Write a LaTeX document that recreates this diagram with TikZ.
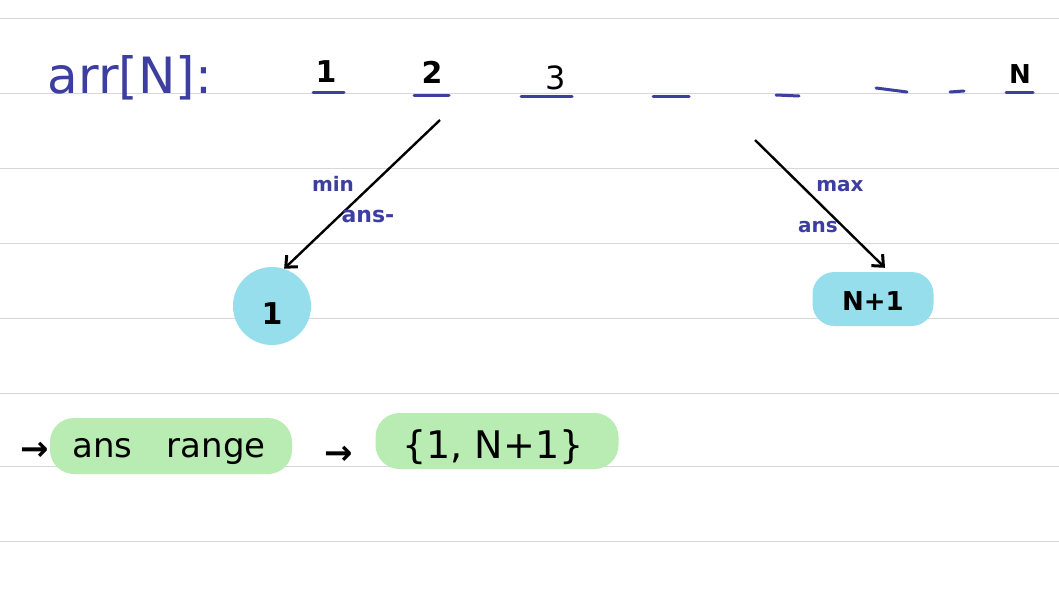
\documentclass[tikz,border=0pt]{standalone}
\usepackage{fontspec}
\setmainfont{DejaVu Sans}
\usetikzlibrary{arrows.meta,calc}
\definecolor{inkblue}{RGB}{60,62,160}
\definecolor{rule}{RGB}{215,215,218}
\definecolor{cyanfill}{RGB}{150,222,236}
\definecolor{greenfill}{RGB}{185,236,178}
\tikzset{
  ruleline/.style={draw=rule, line width=1pt},
  bluetxt/.style={text=inkblue, font=\fontsize{#1}{#1}\selectfont, inner sep=0pt},
  blacktxt/.style={text=black, font=\fontsize{#1}{#1}\selectfont\bfseries, inner sep=0pt},
  dashmark/.style={draw=inkblue, line width=3pt, line cap=round},
  bigarrow/.style={draw=black, line width=2.4pt, -{Straight Barb[length=9pt,width=16pt,line width=3pt]}},
  cyanbox/.style={fill=cyanfill, rounded corners=22pt, minimum width=121pt, minimum height=54pt, inner sep=0pt},
  greenbox/.style={fill=greenfill, rounded corners=24pt, inner sep=0pt}
}
\begin{document}
\begin{tikzpicture}[x=1pt,y=-1pt]
\useasboundingbox[fill=white] (0,0) rectangle (1059,597);
% ruled lines
\foreach \yy in {18,93,168,243,318,393,466,541}
  \draw[ruleline] (0,\yy) -- (1059,\yy);
% header
\node[text=inkblue, font=\fontsize{50}{50}\selectfont, inner sep=0pt, anchor=center] (arr) at (130,78) {arr[N]:};
\node[blacktxt=30] (n1) at (326,72) {1};
\node[blacktxt=30] (n2) at (432,72) {2};
\node[text=black, font=\fontsize{32}{32}\selectfont, inner sep=0pt] (n3) at (556,78) {3};
\node[blacktxt=26] (nN) at (1020,74) {N};
\draw[dashmark] (313,92) -- (344,92);
\draw[dashmark] (414,95) -- (449,95);
\draw[dashmark] (521,96) -- (572,96);
\draw[dashmark] (653,96) -- (689,96);
\draw[dashmark] (776,95) -- (799,96);
\draw[dashmark] (876,88) -- (907,92);
\draw[dashmark] (950,92) -- (964,91);
\draw[dashmark] (1006,92) -- (1033,92);
% result nodes
\node[circle, fill=cyanfill, minimum size=78pt, inner sep=0pt] (c1) at (272,306) {};
\node[blacktxt=30] at (272,314) {1};
\node[cyanbox] (cN) at (873,299) {};
\node[blacktxt=26] at (873,301) {N+1};
% arrows
\coordinate (a1s) at (440,120);
\coordinate (a2s) at (755,140);
\draw[bigarrow] (a1s) -- (c1.72);
\draw[bigarrow] (a2s) -- ($(cN.north)+(12,-4)$);
\node[bluetxt=20] (lmin) at (333,184) {\bfseries min};
\node[bluetxt=22] (lans1) at (368,216) {\bfseries ans-};
\node[bluetxt=20] (lmax) at (840,186) {\bfseries max};
\node[bluetxt=20] (lans2) at (818,227) {\bfseries ans};
% bottom line
\node[greenbox, minimum width=242pt, minimum height=56pt] (g1) at (171,446) {};
\node[greenbox, minimum width=243pt, minimum height=56pt] (g2) at (497,441) {};
\node[blacktxt=34] (ar1) at (35,451) {→};
\node[text=black, font=\fontsize{34}{34}\selectfont, inner sep=0pt] (t1) at (169,452) {ans\quad range};
\node[blacktxt=34] (ar2) at (339,455) {→};
\node[text=black, font=\fontsize{38}{38}\selectfont, inner sep=0pt] (t2) at (493,447) {\{1, N+1\}};
\end{tikzpicture}
\end{document}
